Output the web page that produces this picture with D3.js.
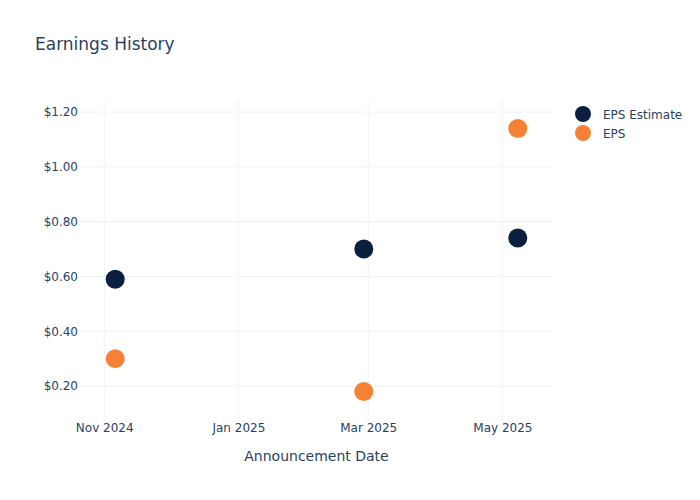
<!DOCTYPE html>
<html>
<head>
<meta charset="utf-8">
<script src="https://cdn.jsdelivr.net/npm/d3@7"></script>
<style>
  body { margin: 0; background: #fff; }
  text { font-family: "DejaVu Sans", sans-serif; fill: #2a3f5f; }
</style>
</head>
<body>
<svg width="700" height="500"></svg>
<script>
const dates = ["2024-11-06", "2025-02-27", "2025-05-08"];
const epsEstimate = [0.59, 0.70, 0.74];
const eps = [0.30, 0.18, 1.14];
const yTicks = [0.2, 0.4, 0.6, 0.8, 1.0, 1.2];
const xTicks = ["2024-11-01", "2025-01-01", "2025-03-01", "2025-05-01"];
const seriesNames = ["EPS Estimate", "EPS"];
const colors = ["#0c1f40", "#f58137"];

const parse = d3.utcParse("%Y-%m-%d");
const svg = d3.select("svg");
const margin = { top: 100, right: 147, bottom: 80, left: 80 };
const width = 700 - margin.left - margin.right;
const height = 500 - margin.top - margin.bottom;
const g = svg.append("g").attr("transform", `translate(${margin.left},${margin.top})`);

const x = d3.scaleUtc()
  .domain([parse("2024-10-21"), parse("2025-05-24")])
  .range([0, width]);
const y = d3.scaleLinear().domain([0.076, 1.244]).range([height, 0]);

// grid
g.selectAll(".ygrid").data(yTicks).join("line")
  .attr("x1", 0).attr("x2", width)
  .attr("y1", d => y(d)).attr("y2", d => y(d))
  .attr("stroke", "#eef2f9");
g.selectAll(".xgrid").data(xTicks).join("line")
  .attr("x1", d => x(parse(d))).attr("x2", d => x(parse(d)))
  .attr("y1", 0).attr("y2", height)
  .attr("stroke", "#eef2f9");

// axes
const xAxis = g.append("g")
  .attr("transform", `translate(0,${height})`)
  .call(d3.axisBottom(x).tickValues(xTicks.map(parse)).tickFormat(d3.utcFormat("%b %Y")).tickSize(0).tickPadding(3));
const yAxis = g.append("g")
  .call(d3.axisLeft(y).tickValues(yTicks).tickFormat(d => "$" + d.toFixed(2)).tickSize(0).tickPadding(2));
[xAxis, yAxis].forEach(a => {
  a.select(".domain").remove();
  a.selectAll("text").attr("font-size", 12).attr("fill", "#2a3f5f").style("font-family", "DejaVu Sans, sans-serif");
});

// points
[epsEstimate, eps].forEach((vals, i) => {
  g.selectAll(".pt" + i).data(vals).join("circle")
    .attr("cx", (d, j) => x(parse(dates[j])))
    .attr("cy", d => y(d))
    .attr("r", 9.5)
    .attr("fill", colors[i]);
});

// title
svg.append("text").attr("x", 35).attr("y", 50)
  .attr("font-size", 17).text("Earnings History");

// axis title
svg.append("text").attr("x", margin.left + width / 2).attr("y", 461)
  .attr("text-anchor", "middle").attr("font-size", 14).text("Announcement Date");

// legend
const legend = svg.append("g").attr("transform", "translate(583,114)");
seriesNames.forEach((name, i) => {
  legend.append("circle").attr("cx", 0).attr("cy", i * 19).attr("r", 8).attr("fill", colors[i]);
  legend.append("text").attr("x", 20).attr("y", i * 19 + 4.5)
    .attr("font-size", 12).text(name);
});
</script>
</body>
</html>
